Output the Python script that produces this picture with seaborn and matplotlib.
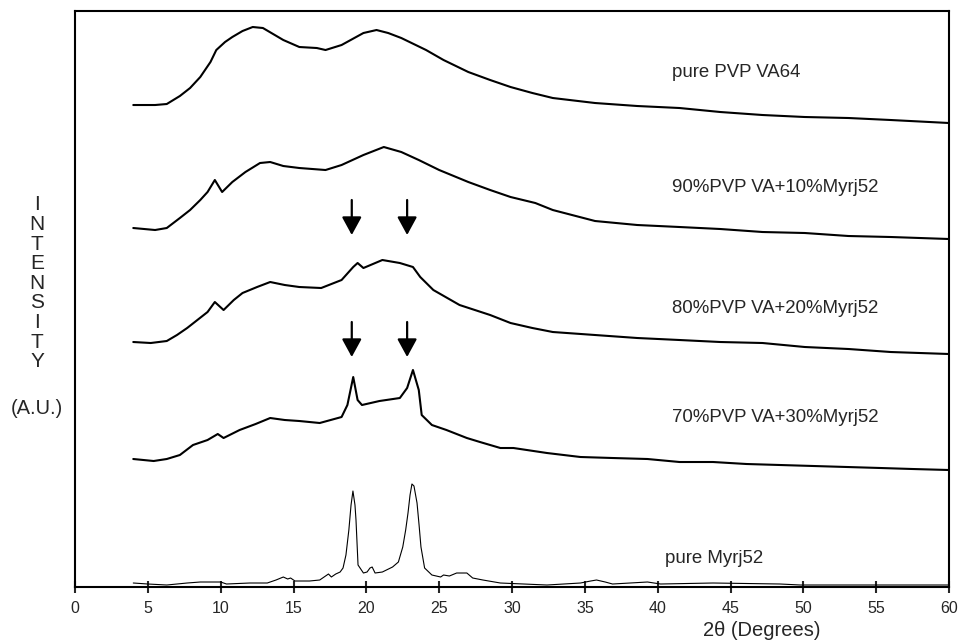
import matplotlib
matplotlib.use("Agg")
import matplotlib.pyplot as plt
import seaborn as sns


# XRD traces, 2-theta (deg) vs stacked intensity (a.u.)

pvp_x = [4.0, 5.5, 6.3, 7.2, 7.9, 8.6, 9.3, 9.7, 10.3, 10.8, 11.5, 12.2, 12.9,
         13.6, 14.3, 15.4, 16.6, 17.2, 18.3, 19.8, 20.7, 21.5, 22.4, 24.1,
         25.3, 27.0, 28.5, 29.9, 31.4, 32.8, 35.7, 38.6, 41.5, 44.3, 47.2,
         50.1, 53.1, 56.0, 60.0]
pvp_y = [482, 482, 483, 491, 499, 510, 525, 537, 545, 550, 556, 560, 559,
         553, 547, 540, 539, 537, 542, 554, 557, 554, 549, 537,
         527, 515, 507, 500, 494, 489, 484, 481, 479, 475, 472,
         470, 469, 467, 464]

mix90_x = [4.0, 5.5, 6.3, 7.2, 7.9, 8.6, 9.1, 9.6, 10.1, 10.8, 11.7, 12.7,
           13.4, 14.3, 15.4, 17.2, 18.3, 19.8, 21.2, 22.4, 23.6, 25.0, 27.0,
           28.5, 29.9, 31.6, 32.8, 35.7, 38.6, 41.5, 44.3, 47.2, 50.1, 53.1,
           56.0, 60.0]
mix90_y = [359, 357, 359, 369, 377, 387, 395, 407, 395, 405, 415, 424,
           425, 421, 419, 417, 422, 432, 440, 435, 427, 417, 405,
           397, 390, 384, 377, 366, 362, 360, 358, 355, 354, 351,
           350, 348]

mix80_x = [4.0, 5.2, 6.3, 7.0, 7.7, 8.4, 9.1, 9.6, 10.2, 10.9, 11.5, 12.5,
           13.4, 14.4, 15.4, 16.9, 18.3, 19.1, 19.4, 19.8, 21.1, 22.3, 23.2,
           23.7, 24.6, 26.4, 28.5, 29.9, 31.4, 32.8, 35.7, 38.6, 41.5, 44.3,
           47.2, 50.1, 53.1, 56.0, 60.0]
mix80_y = [245, 244, 246, 252, 259, 267, 275, 285, 277, 287, 294, 300,
           305, 302, 300, 299, 307, 320, 324, 319, 327, 324, 320,
           310, 297, 282, 272, 264, 259, 255, 252, 249, 247, 245,
           244, 240, 238, 235, 233]

mix70_x = [4.0, 5.4, 6.3, 7.2, 8.1, 9.1, 9.8, 10.2, 11.3, 12.4, 13.4, 14.4,
           15.4, 16.8, 18.3, 18.7, 19.1, 19.4, 19.7, 20.9, 22.3, 22.8, 23.2,
           23.6, 23.8, 24.5, 25.5, 26.9, 27.8, 29.2, 30.1, 32.4, 34.7, 36.9,
           39.3, 41.5, 43.8, 46.1, 48.4, 50.7, 53.0, 55.3, 57.5, 60.0]
mix70_y = [128, 126, 128, 132, 142, 147, 153, 149, 157, 163, 169, 167,
           166, 164, 170, 182, 210, 187, 182, 186, 189, 199, 217,
           197, 172, 162, 157, 149, 145, 139, 139, 134, 130, 129,
           128, 125, 125, 123, 122, 121, 120, 119, 118, 117]

myrj_x = [4.0, 5.0, 6.3, 7.7, 8.6, 10.0, 10.4, 12.0, 13.2, 13.8, 14.3, 14.6,
          14.8, 15.1, 16.1, 16.8, 17.4, 17.6, 17.9, 18.2, 18.4, 18.6, 18.8,
          18.95, 19.08, 19.22, 19.29, 19.43, 19.8, 20.05, 20.25, 20.4, 20.6,
          21.1, 21.8, 22.2, 22.5, 22.7, 22.86, 23.0, 23.13, 23.27, 23.48,
          23.62, 23.75, 24.0, 24.5, 25.1, 25.3, 25.7, 26.2, 26.9, 27.3, 28.0,
          29.2, 32.4, 34.7, 35.4, 35.8, 36.4, 36.9, 39.3, 40.2, 43.8, 48.4,
          49.8, 60.0]
myrj_y = [4, 3, 2, 4, 5, 5, 3, 4, 4, 7, 10, 8,
          9, 6, 6, 7, 13, 10, 13, 15, 19, 32, 57,
          82, 96, 82, 67, 22, 14, 15, 19, 20, 14,
          15, 20, 25, 40, 57, 74, 92, 103, 101, 84,
          62, 40, 19, 12, 10, 12, 11, 14, 14, 9, 7,
          4, 2, 4, 6, 7, 5, 3, 5, 3, 4, 3,
          2, 2]

traces = [
    (pvp_x, pvp_y, "pure PVP VA64"),
    (mix90_x, mix90_y, "90%PVP VA+10%Myrj52"),
    (mix80_x, mix80_y, "80%PVP VA+20%Myrj52"),
    (mix70_x, mix70_y, "70%PVP VA+30%Myrj52"),
]

# Myrj52 reflections marked with arrows
arrow_x = [19.0, 22.8]

sns.set_style("ticks")
plt.rcParams["font.family"] = ["Liberation Sans", "DejaVu Sans"]

fig = plt.figure(figsize=(9.59, 6.44), dpi=100)
ax = fig.add_axes([0.0782, 0.0885, 0.9114, 0.8944])

for x, y, name in traces:
    sns.lineplot(x=x, y=y, ax=ax, color="black", lw=1.5,
                 estimator=None, sort=False)

sns.lineplot(x=myrj_x, y=myrj_y, ax=ax, color="black", lw=0.8,
             estimator=None, sort=False)

# sample labels
label_pos = [(41.0, 515), (41.0, 400), (41.0, 279), (41.0, 170)]
for (x, y, name), (lx, ly) in zip(traces, label_pos):
    ax.text(lx, ly, name, fontsize=13.4, va="center", ha="left")
ax.text(40.5, 29, "pure Myrj52", fontsize=13.4, va="center", ha="left")

# arrows
for top, tip in [(387, 352), (265, 230)]:
    for ax_ in arrow_x:
        ax.annotate("", xy=(ax_, tip), xytext=(ax_, top),
                    arrowprops=dict(arrowstyle="-|>,head_length=1.1,head_width=0.6",
                                    color="black", lw=1.6, shrinkA=0, shrinkB=0,
                                    mutation_scale=10))

ax.set_xlim(0, 60)
ax.set_ylim(0, 576)
ax.set_xticks(range(0, 61, 5))
ax.set_yticks([])
ax.tick_params(axis="x", direction="inout", length=8.6, width=1.5,
               labelsize=11.5, pad=5.5)
for s in ax.spines.values():
    s.set_linewidth(1.5)
    s.set_color("black")

ax.set_xlabel("2θ (Degrees)", fontsize=14.5)
ax.xaxis.set_label_coords(0.786, -0.059)
ax.set_ylabel("")

# stacked y-axis title
for i, ch in enumerate("INTENSITY"):
    fig.text(37 / 959, 1 - (205 + 19.6 * i) / 644, ch, fontsize=15,
             ha="center", va="center")
fig.text(37 / 959, 1 - 408 / 644, "(A.U.)", fontsize=14.5,
         ha="center", va="center")

fig.savefig("out.png", dpi=100)
